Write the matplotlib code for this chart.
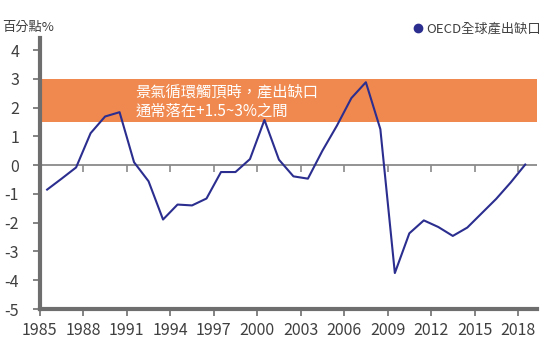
import numpy as np
import matplotlib
matplotlib.use("Agg")
import matplotlib.pyplot as plt
from matplotlib.lines import Line2D

plt.rcParams['font.family'] = ['Noto Sans CJK TC', 'DejaVu Sans']
plt.rcParams['axes.unicode_minus'] = False

# OECD 全球產出缺口 (百分點)
years = np.arange(1985, 2019)
gap = [-0.85, -0.47, -0.08, 1.11, 1.69, 1.84, 0.10, -0.56, -1.89, -1.37,
       -1.40, -1.16, -0.24, -0.24, 0.21, 1.57, 0.19, -0.39, -0.47, 0.50,
       1.37, 2.33, 2.88, 1.25, -3.75, -2.37, -1.92, -2.15, -2.46, -2.17,
       -1.67, -1.17, -0.60, 0.02]
xticks = [1985, 1988, 1991, 1994, 1997, 2000, 2003, 2006, 2009, 2012, 2015, 2018]
yticks = [4, 3, 2, 1, 0, -1, -2, -3, -4, -5]
band = (1.5, 3.0)

line_color = '#2b2e8f'
band_color = '#f0894f'
text_color = '#404040'
axis_color = '#6e6e6e'


def main():
    fig = plt.figure(figsize=(5.54, 3.48), dpi=100)
    ax = fig.add_axes([0.072, 0.112, 0.897, 0.779])

    ax.axhspan(band[0], band[1], color=band_color, lw=0, zorder=0)
    ax.axhline(0, color='#8a8a8a', lw=1.3, zorder=1)
    ax.plot(years + 0.5, gap, color=line_color, lw=1.5, zorder=3)

    ax.text(1991.6, 2.22, '景氣循環觸頂時，產出缺口\n通常落在+1.5~3%之間',
            color='white', fontsize=11, va='center', ha='left',
            linespacing=1.15, zorder=4)

    ax.set_xlim(1985, 2019.3)
    ax.set_ylim(-5, 4.42)
    ax.set_xticks(xticks)
    ax.set_yticks(yticks)
    ax.tick_params(axis='both', colors=axis_color, labelcolor=text_color,
                   labelsize=11.5, length=5, width=1.2)
    ax.tick_params(axis='x', pad=4)
    ax.tick_params(axis='y', pad=10)

    # ticks on the zero line
    sec = ax.secondary_xaxis(0, transform=ax.transData)
    sec.set_xticks(xticks)
    sec.tick_params(axis='x', colors='#8a8a8a', length=5, width=1.2,
                    labelbottom=False)
    sec.spines['bottom'].set_visible(False)

    for s in ['top', 'right']:
        ax.spines[s].set_visible(False)
    for s in ['left', 'bottom']:
        ax.spines[s].set_color(axis_color)
        ax.spines[s].set_linewidth(3)

    fig.text(0.004, 0.92, '百分點%', color=text_color, fontsize=9.5,
             ha='left', va='center')

    handle = Line2D([], [], marker='o', ls='', color=line_color, markersize=6)
    fig.legend(handles=[handle], labels=['OECD全球產出缺口'], loc='center right',
               bbox_to_anchor=(0.985, 0.915), frameon=False, fontsize=9.5,
               handletextpad=0.1, handlelength=1.0, labelcolor=text_color,
               borderaxespad=0)

    fig.savefig('out.png', dpi=100)


if __name__ == "__main__":
    main()
